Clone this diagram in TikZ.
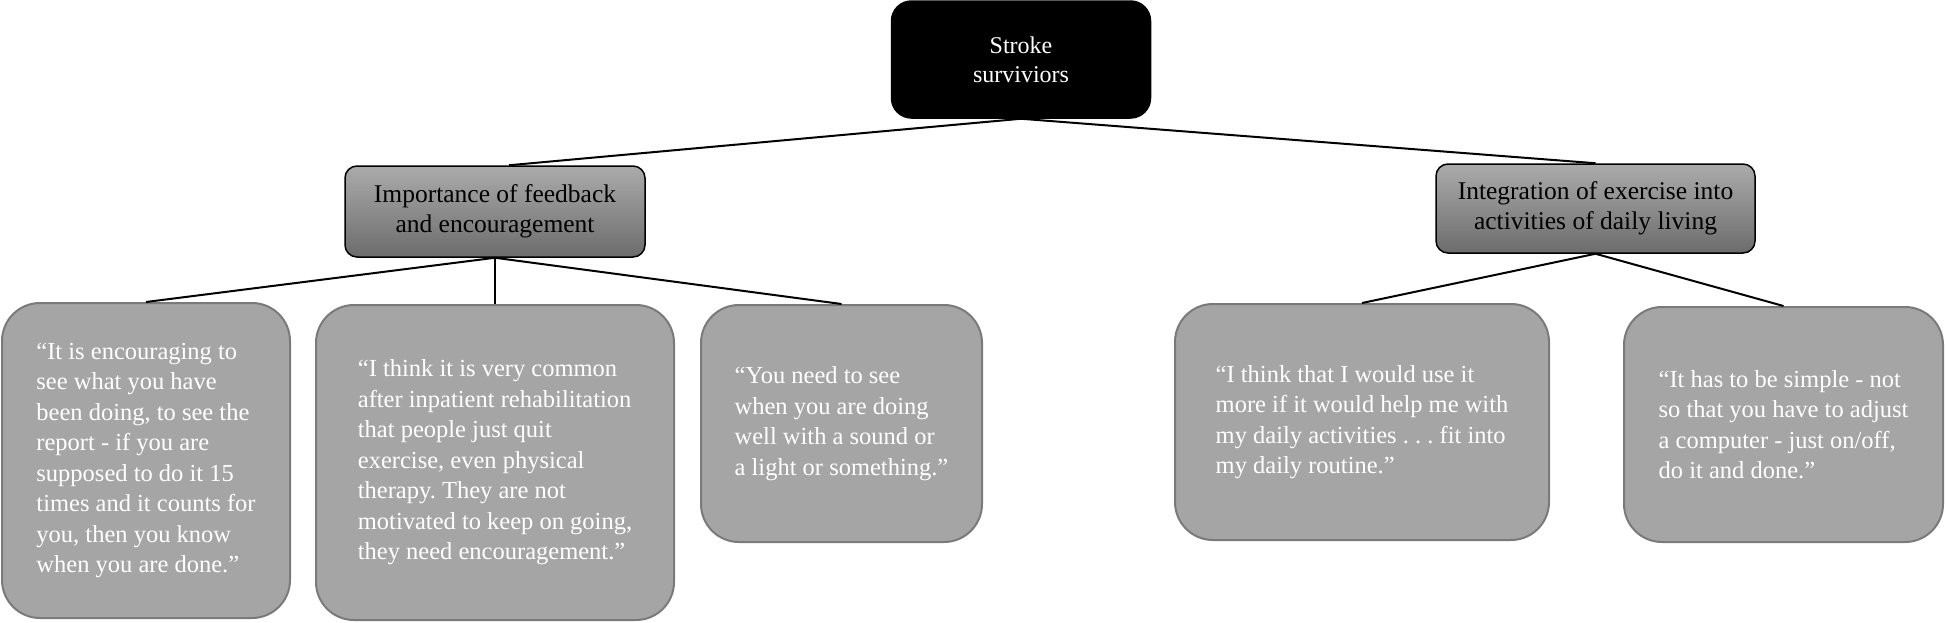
\documentclass[tikz,border=0pt]{standalone}
\usepackage{fontspec}
\setmainfont{Liberation Serif}
\frenchspacing
\definecolor{leaffill}{HTML}{A5A5A5}
\definecolor{leafdraw}{HTML}{7A7A7A}
\definecolor{gradtop}{HTML}{ABABAB}
\definecolor{gradbot}{HTML}{6C6C6C}
\begin{document}
\begin{tikzpicture}[x=1pt,y=-1pt,
  txt/.style={font=\fontsize{24.5}{30.5}\selectfont},
  rootbox/.style={font=\fontsize{24}{29}\selectfont,draw=black,fill=black,text=white,rounded corners=20pt,line width=1.5pt,align=center,inner sep=0pt},
  midbox/.style={font=\fontsize{25.5}{30}\selectfont,draw=black,top color=gradtop,bottom color=gradbot,rounded corners=12pt,line width=1.5pt,align=center,inner sep=0pt},
  leafbox/.style={txt,draw=leafdraw,fill=leaffill,text=white,rounded corners=38pt,line width=2pt,align=left,inner sep=0pt},
  conn/.style={draw=black,line width=2pt}]
\useasboundingbox (0,0) rectangle (1946,622);
\node[rootbox,minimum width=259pt,minimum height=117pt] (root) at (1021,59.5) {Stroke\\surviviors};
\node[midbox,minimum width=300pt,minimum height=91pt] (ml) at (495,211.5) {Importance of feedback\\and encouragement};
\node[midbox,minimum width=319pt,minimum height=89pt] (mr) at (1595.5,208.5) {Integration of exercise into\\activities of daily living};
\node[leafbox,minimum width=288pt,minimum height=315pt] (l1) at (146,460.5) {“It is encouraging to\\see what you have\\been doing, to see the\\report - if you are\\supposed to do it 15\\times and it counts for\\you, then you know\\when you are done.”};
\node[leafbox,minimum width=358pt,minimum height=315pt] (l2) at (495,462.5) {“I think it is very common\\after inpatient rehabilitation\\that people just quit\\exercise, even physical\\therapy. They are not\\motivated to keep on going,\\they need encouragement.”};
\node[leafbox,minimum width=281pt,minimum height=237pt] (l3) at (841.5,423.5) {“You need to see\\when you are doing\\well with a sound or\\a light or something.”};
\node[leafbox,minimum width=374pt,minimum height=236pt] (l4) at (1362,422) {“I think that I would use it\\more if it would help me with\\my daily activities . . . fit into\\my daily routine.”};
\node[leafbox,minimum width=319pt,minimum height=235pt] (l5) at (1783.5,424.5) {“It has to be simple - not\\so that you have to adjust\\a computer - just on/off,\\do it and done.”};
\draw[conn] (root.south) -- ([xshift=14pt]ml.north);
\draw[conn] (root.south) -- (mr.north);
\draw[conn] (ml.south) -- (l1.north);
\draw[conn] (ml.south) -- (l2.north);
\draw[conn] (ml.south) -- (l3.north);
\draw[conn] (mr.south) -- (l4.north);
\draw[conn] (mr.south) -- (l5.north);
\end{tikzpicture}
\end{document}
